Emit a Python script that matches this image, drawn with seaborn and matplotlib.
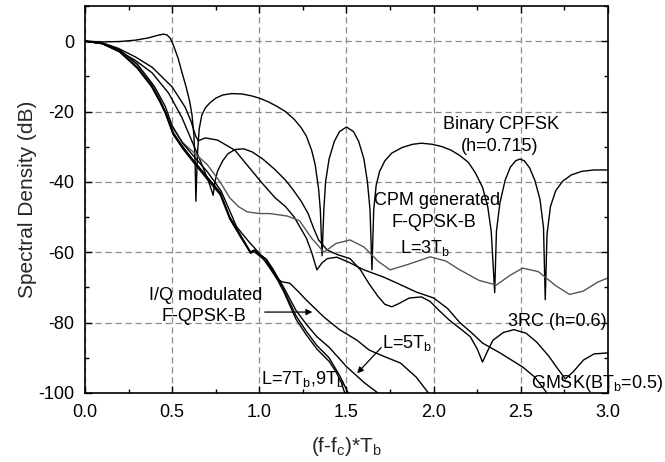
import matplotlib
matplotlib.use("Agg")
import matplotlib.pyplot as plt
from matplotlib.ticker import MultipleLocator, FormatStrFormatter
import seaborn as sns
import pandas as pd

# Binary CPFSK (h=0.715)
cpfsk_x = [0, 0.1, 0.2, 0.29, 0.36, 0.42, 0.45, 0.47, 0.49, 0.51, 0.535, 0.557, 0.58, 0.6, 0.614,
           0.625, 0.632, 0.636,
           0.645, 0.655, 0.67, 0.69, 0.717, 0.75, 0.79, 0.84, 0.9, 0.96, 1.0, 1.05, 1.1, 1.15,
           1.2, 1.24, 1.27, 1.3, 1.32, 1.34, 1.35, 1.36,
           1.37, 1.38, 1.4, 1.43, 1.46, 1.5, 1.54, 1.57, 1.6, 1.62, 1.635, 1.646,
           1.656, 1.67, 1.69, 1.72, 1.76, 1.82, 1.88, 1.93, 1.99, 2.05, 2.1, 2.15, 2.2, 2.24,
           2.28, 2.31, 2.33, 2.35,
           2.36, 2.38, 2.41, 2.44, 2.47, 2.495, 2.52, 2.55, 2.58, 2.61, 2.63, 2.64,
           2.65, 2.67, 2.7, 2.74, 2.79, 2.85, 2.92, 3.0]
cpfsk_y = [0, -0.2, -0.1, 0.3, 0.9, 1.7, 2.0, 1.8, 0.8, -1.5, -5, -9, -13, -17, -21,
           -27, -35, -45.5,
           -32, -25, -21, -19, -17.5, -16.2, -15.3, -14.9, -15, -15.6, -16.2, -17.2, -18.5, -20,
           -22.2, -24.6, -27, -31, -35, -42, -48, -61,
           -48, -40, -33.5, -28.5, -25.7, -24.4, -25.7, -28.5, -33.5, -40, -48, -65,
           -48, -41, -37, -34, -31.8, -30.2, -29.3, -29, -29.3, -30, -31, -32.5, -34.5, -37.5,
           -41.5, -47, -54, -71.5,
           -54, -46, -39.5, -35.8, -34, -33.5, -34, -36, -39.5, -45, -53, -73.5,
           -55, -47, -42.5, -39.8, -38, -37, -36.6, -36.6]

# 3RC (h=0.6)
rc3_x = [0, 0.1, 0.19, 0.29, 0.385, 0.48, 0.555, 0.61, 0.67, 0.71, 0.735, 0.745, 0.76, 0.79, 0.82,
         0.86, 0.91, 0.96, 1.02, 1.09, 1.15, 1.19, 1.24, 1.28, 1.31, 1.34, 1.39, 1.45, 1.52, 1.58,
         1.63, 1.68, 1.72, 1.76, 1.8, 1.86, 1.93, 1.98, 2.03, 2.09, 2.16, 2.21, 2.25, 2.28, 2.31,
         2.34, 2.4, 2.46, 2.53, 2.59, 2.66, 2.71, 2.755, 2.8, 2.86, 2.92, 3.0]
rc3_y = [0, -0.7, -2.6, -5.5, -9, -14.8, -21.6, -28, -35, -40, -43.8, -40, -37, -34, -32,
         -30.8, -30.6, -31.5, -33.5, -36.5, -39.5, -42, -45.5, -49, -53, -56.5, -59.4, -60.7, -61.8, -65,
         -69, -72.5, -74.8, -75.5, -74.6, -73, -72.7, -74, -76.5, -79.3, -82, -84, -87.5, -91.2, -88,
         -85, -82.8, -82, -83, -85.5, -89.5, -93, -96, -94, -90.6, -88.9, -88.6]

# GMSK (BTb=0.5)
gmsk_x = [0, 0.1, 0.19, 0.29, 0.385, 0.5, 0.575, 0.61, 0.635, 0.65, 0.69, 0.76, 0.86, 0.93, 1.01,
          1.09, 1.15, 1.2, 1.27, 1.3, 1.33, 1.36, 1.39, 1.445, 1.52, 1.6, 1.71, 1.8, 1.9, 2.0,
          2.08, 2.15, 2.22, 2.28, 2.38, 2.51, 2.58, 2.65]
gmsk_y = [0, -0.5, -2, -4.5, -7.4, -13, -18.8, -23, -27, -28.3, -27.5, -28.1, -31, -35.2, -40,
          -44.5, -47, -50, -56, -60, -65, -63, -61.8, -61.4, -63, -65, -67, -69, -71.3, -73,
          -76, -80, -83, -85.8, -88.6, -92.6, -95.5, -100]

# CPM generated F-QPSK-B, L=3Tb (grey)
l3_x = [0, 0.1, 0.2, 0.3, 0.38, 0.43, 0.5, 0.56, 0.62, 0.7, 0.775, 0.83, 0.88, 0.93, 1.0,
        1.06, 1.16, 1.23, 1.3, 1.37, 1.44, 1.52, 1.6, 1.68, 1.75, 1.85, 1.98, 2.07, 2.15, 2.26,
        2.36, 2.44, 2.51, 2.6, 2.7, 2.78, 2.86, 2.94, 3.0]
l3_y = [0, -0.6, -2.7, -6.8, -11.8, -16.5, -24.5, -28.8, -31.5, -35, -40, -44.5, -47, -48.5, -49,
        -49, -49.7, -51, -56, -60, -57.5, -56.5, -58.5, -62.5, -65, -63.5, -61.3, -62.5, -65, -68,
        -69.3, -66.5, -64.5, -65.5, -69.5, -72, -71, -68.5, -67.3]

# CPM generated F-QPSK-B, L=5Tb, 7Tb, 9Tb
l5_x = [0, 0.1, 0.2, 0.3, 0.38, 0.43, 0.46, 0.505, 0.56, 0.62, 0.7, 0.775, 0.83, 0.89, 0.95,
        0.97, 1.0, 1.04, 1.08, 1.14, 1.21, 1.27, 1.33, 1.4, 1.5, 1.6, 1.68]
l5_y = [0, -0.7, -3, -7.5, -12.5, -17, -20, -26, -30, -33.8, -38.6, -43, -50, -55, -60,
        -59.4, -60.5, -62, -65, -70, -76.5, -80.5, -84, -87, -92.5, -97, -100]
l7_x = [0, 0.1, 0.2, 0.3, 0.38, 0.43, 0.46, 0.505, 0.56, 0.62, 0.7, 0.775, 0.83, 0.89, 0.95,
        0.97, 1.0, 1.04, 1.08, 1.14, 1.21, 1.27, 1.33, 1.4, 1.46, 1.51]
l7_y = [0, -0.7, -3, -7.5, -12.5, -17, -20, -26, -30, -33.8, -38.6, -43, -50, -55, -60,
        -59.4, -60.5, -62, -65, -70.7, -78, -82.5, -86.5, -90, -95, -100]
l9_x = [0, 0.1, 0.2, 0.3, 0.38, 0.43, 0.46, 0.505, 0.56, 0.62, 0.7, 0.775, 0.83, 0.89, 0.95,
        0.97, 1.0, 1.04, 1.08, 1.14, 1.21, 1.27, 1.33, 1.4, 1.44, 1.47, 1.49]
l9_y = [0, -0.7, -3.1, -7.7, -12.8, -17.3, -20.4, -26.5, -30.5, -34.3, -39.2, -43.6, -50.5, -55.5, -60.3,
        -59.8, -61, -62.6, -65.6, -71.2, -79, -83.5, -87.5, -91, -94, -97, -100]

# I/Q modulated F-QPSK-B
iq_x = [0, 0.1, 0.2, 0.3, 0.4, 0.46, 0.5, 0.56, 0.62, 0.7, 0.78, 0.87, 0.94, 1.0, 1.06,
        1.1, 1.13, 1.175, 1.22, 1.27, 1.37, 1.46, 1.56, 1.63, 1.71, 1.81, 1.9, 1.97]
iq_y = [0, -0.5, -2.5, -6.5, -13, -18.5, -24, -29, -32.5, -37, -42.5, -52.8, -57, -60.3, -64.5,
        -67.5, -68.4, -68.8, -71, -73.6, -78.4, -82, -85, -87.8, -89.5, -91.5, -95.5, -100]

curves = [
    ("CPFSK", cpfsk_x, cpfsk_y),
    ("3RC", rc3_x, rc3_y),
    ("GMSK", gmsk_x, gmsk_y),
    ("L3", l3_x, l3_y),
    ("L5", l5_x, l5_y),
    ("L7", l7_x, l7_y),
    ("L9", l9_x, l9_y),
    ("IQ", iq_x, iq_y),
]
df = pd.concat([pd.DataFrame({"curve": n, "x": xs, "y": ys}) for n, xs, ys in curves])
palette = {n: "black" for n, _, _ in curves}
palette["L3"] = "#555555"

sns.set_theme(style="ticks")
plt.rcParams["font.family"] = ["Liberation Sans", "DejaVu Sans"]
plt.rcParams["mathtext.default"] = "regular"
plt.rcParams["axes.unicode_minus"] = False

fig = plt.figure(figsize=(6.65, 4.62), dpi=100)
ax = fig.add_axes([0.1278, 0.1494, 0.7865, 0.8376])

sns.lineplot(data=df, x="x", y="y", hue="curve", palette=palette, estimator=None,
             sort=False, linewidth=1.0, legend=False, ax=ax)

ax.set_xlim(0, 3)
ax.set_ylim(-100, 10)
ax.xaxis.set_major_locator(MultipleLocator(0.5))
ax.xaxis.set_minor_locator(MultipleLocator(0.25))
ax.yaxis.set_major_locator(MultipleLocator(20))
ax.yaxis.set_minor_locator(MultipleLocator(10))
ax.xaxis.set_major_formatter(FormatStrFormatter("%.1f"))
ax.yaxis.set_major_formatter(FormatStrFormatter("%d"))
ax.tick_params(which="both", direction="in", top=True, right=True, colors="black",
               labelsize=13)
ax.tick_params(which="major", length=5, width=1)
ax.tick_params(which="minor", length=3, width=1)
ax.tick_params(axis="x", which="major", pad=8)
ax.tick_params(axis="y", which="major", pad=7.5)
ax.set_axisbelow(True)
ax.grid(True, which="major", linestyle=(0, (5, 3)), color="#8c8c8c", linewidth=0.9)
for s in ax.spines.values():
    s.set_linewidth(1.2)
    s.set_color("black")

ax.set_xlabel("(f-f$_c$)*T$_b$", fontsize=15, labelpad=10)
ax.set_ylabel("Spectral Density (dB)", fontsize=15, labelpad=1)

txt = dict(fontsize=13, ha="center", va="center", color="black")
ax.text(2.385, -23.6, "Binary CPFSK", **txt)
ax.text(2.38, -30, "(h=0.715)", **txt)
ax.text(2.02, -45.2, "CPM generated", **txt)
ax.text(2.0, -51.4, "F-QPSK-B", **txt)
ax.text(1.95, -58.8, "L=3T$_b$", **txt)
ax.text(0.69, -72.2, "I/Q modulated", **txt)
ax.text(0.68, -78.4, "F-QPSK-B", **txt)
ax.text(1.85, -85.8, "L=5T$_b$", **txt)
ax.text(1.25, -96, "L=7T$_b$,9T$_b$", **txt)
ax.text(2.71, -79.8, "3RC (h=0.6)", **txt)
ax.text(2.94, -97.2, "GMSK(BT$_b$=0.5)", clip_on=False, **txt)

arrow = dict(arrowstyle="-|>", color="black", lw=0.9, mutation_scale=9)
ax.annotate("", xy=(1.32, -77), xytext=(1.015, -77), arrowprops=arrow)
ax.annotate("", xy=(1.55, -95), xytext=(1.71, -86.5), arrowprops=arrow)

fig.savefig("out.png", dpi=100)
